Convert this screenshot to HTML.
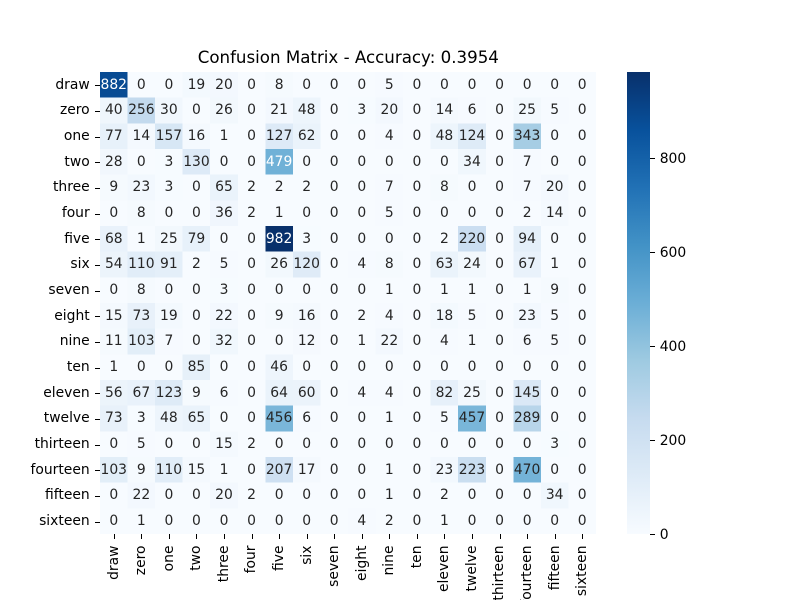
<!DOCTYPE html>
<html lang="en">
<head>
<meta charset="utf-8">
<title>Confusion Matrix</title>
<style>
html,body{margin:0;padding:0;background:#fff;width:800px;height:600px;overflow:hidden}
svg{display:block}
text{font-family:"DejaVu Sans",sans-serif;font-size:13.89px}
</style>
</head>
<body>
<svg id="chart" xmlns="http://www.w3.org/2000/svg" width="800" height="600" viewBox="0 0 800 600">
<defs>
<linearGradient id="cbar-gradient" x1="0" y1="1" x2="0" y2="0"></linearGradient>
</defs>
<text x="348.3" y="63" text-anchor="middle" style="font-size:16.67px" fill="#000">Confusion Matrix - Accuracy: 0.3954</text>
<g id="cells"></g>
<g id="annots"></g>
<g id="yaxis"></g>
<g id="xaxis"></g>
<rect x="627" y="72" width="23" height="462" fill="url(#cbar-gradient)"></rect>
<g id="cbar-axis"></g>
</svg>
<script>
const categories = ["draw","zero","one","two","three","four","five","six","seven","eight","nine","ten","eleven","twelve","thirteen","fourteen","fifteen","sixteen"];
const rowDraw     = [882,0,0,19,20,0,8,0,0,0,5,0,0,0,0,0,0,0];
const rowZero     = [40,256,30,0,26,0,21,48,0,3,20,0,14,6,0,25,5,0];
const rowOne      = [77,14,157,16,1,0,127,62,0,0,4,0,48,124,0,343,0,0];
const rowTwo      = [28,0,3,130,0,0,479,0,0,0,0,0,0,34,0,7,0,0];
const rowThree    = [9,23,3,0,65,2,2,2,0,0,7,0,8,0,0,7,20,0];
const rowFour     = [0,8,0,0,36,2,1,0,0,0,5,0,0,0,0,2,14,0];
const rowFive     = [68,1,25,79,0,0,982,3,0,0,0,0,2,220,0,94,0,0];
const rowSix      = [54,110,91,2,5,0,26,120,0,4,8,0,63,24,0,67,1,0];
const rowSeven    = [0,8,0,0,3,0,0,0,0,0,1,0,1,1,0,1,9,0];
const rowEight    = [15,73,19,0,22,0,9,16,0,2,4,0,18,5,0,23,5,0];
const rowNine     = [11,103,7,0,32,0,0,12,0,1,22,0,4,1,0,6,5,0];
const rowTen      = [1,0,0,85,0,0,46,0,0,0,0,0,0,0,0,0,0,0];
const rowEleven   = [56,67,123,9,6,0,64,60,0,4,4,0,82,25,0,145,0,0];
const rowTwelve   = [73,3,48,65,0,0,456,6,0,0,1,0,5,457,0,289,0,0];
const rowThirteen = [0,5,0,0,15,2,0,0,0,0,0,0,0,0,0,0,3,0];
const rowFourteen = [103,9,110,15,1,0,207,17,0,0,1,0,23,223,0,470,0,0];
const rowFifteen  = [0,22,0,0,20,2,0,0,0,0,1,0,2,0,0,0,34,0];
const rowSixteen  = [0,1,0,0,0,0,0,0,0,4,2,0,1,0,0,0,0,0];
const counts = [rowDraw,rowZero,rowOne,rowTwo,rowThree,rowFour,rowFive,rowSix,rowSeven,rowEight,rowNine,rowTen,rowEleven,rowTwelve,rowThirteen,rowFourteen,rowFifteen,rowSixteen];
const colorbarTicks = [0,200,400,600,800];
const colorbarMax = 982;

const NS = "http://www.w3.org/2000/svg";
const plot = {left:100, right:596, top:72, bottom:534};
const cbar = {left:627, right:650, top:72, bottom:534};
const blues = [[247,251,255],[222,235,247],[198,219,239],[158,202,225],[107,174,214],[66,146,198],[33,113,181],[8,81,156],[8,48,107]];

function xScale(i){ return plot.left + (plot.right-plot.left)*i/categories.length; }
function yScale(i){ return plot.top + (plot.bottom-plot.top)*i/categories.length; }
function cbarScale(v){ return cbar.bottom - (cbar.bottom-cbar.top)*v/colorbarMax; }
function colorRgb(v){
  const t = Math.max(0,Math.min(1,v/colorbarMax))*(blues.length-1);
  const i = Math.min(Math.floor(t),blues.length-2);
  const f = t-i;
  return blues[i].map((c,k)=>c+(blues[i+1][k]-c)*f);
}
function css(rgb){ return "rgb("+rgb.map(c=>Math.round(c)).join(",")+")"; }
function luminance(rgb){
  const l = rgb.map(c=>{c/=255;return c<=0.03928?c/12.92:Math.pow((c+0.055)/1.055,2.4);});
  return 0.2126*l[0]+0.7152*l[1]+0.0722*l[2];
}
function baseline(center){ return Math.floor(center+4.2); }
function make(tag,attrs,parent,txt){
  const el = document.createElementNS(NS,tag);
  for(const k in attrs) el.setAttribute(k,attrs[k]);
  if(txt!==undefined) el.textContent = txt;
  parent.appendChild(el);
  return el;
}

const grad = document.getElementById("cbar-gradient");
blues.forEach((c,i)=>{
  make("stop",{offset:(i/(blues.length-1)),"stop-color":css(c)},grad);
});

const cellsG = document.getElementById("cells");
const annotsG = document.getElementById("annots");
counts.forEach((row,r)=>{
  row.forEach((v,c)=>{
    const rgb = colorRgb(v);
    const rect = make("rect",{x:xScale(c),y:yScale(r),width:xScale(c+1)-xScale(c),height:yScale(r+1)-yScale(r),fill:css(rgb),"shape-rendering":"crispEdges"},cellsG);
    
    
    const t = make("text",{x:(xScale(c)+xScale(c+1))/2,y:baseline((yScale(r)+yScale(r+1))/2),"text-anchor":"middle",fill:luminance(rgb)>0.408?"#262626":"#ffffff"},annotsG,String(v));
    
    
  });
});

const yG = document.getElementById("yaxis");
const xG = document.getElementById("xaxis");
categories.forEach((name,i)=>{
  const yc = (yScale(i)+yScale(i+1))/2;
  const ytp = Math.ceil(yc)+0.5;
  const yt = make("line",{x1:plot.left-5,x2:plot.left,y1:ytp,y2:ytp,stroke:"#000","stroke-width":1,"shape-rendering":"crispEdges"},yG);
  
  
  const yl = make("text",{x:plot.left-10.3,y:baseline(yc),"text-anchor":"end",fill:"#000"},yG,name);
  
  

  const xc = (xScale(i)+xScale(i+1))/2;
  const xtp = Math.round(xc)+0.5;
  const xt = make("line",{x1:xtp,x2:xtp,y1:plot.bottom,y2:plot.bottom+5,stroke:"#000","stroke-width":1,"shape-rendering":"crispEdges"},xG);
  
  
  const lx = Math.round(xc+3.9), ly = plot.bottom+11.5;
  const xl = make("text",{x:lx,y:ly,"text-anchor":"end",fill:"#000",transform:"rotate(-90 "+lx+" "+ly+")"},xG,name);
  
  
});

const cG = document.getElementById("cbar-axis");
colorbarTicks.forEach(v=>{
  const y = cbarScale(v);
  const cty = Math.ceil(y)+0.5;
  const ct = make("line",{x1:cbar.right,x2:cbar.right+5,y1:cty,y2:cty,stroke:"#000","stroke-width":1,"shape-rendering":"crispEdges"},cG);
  
  
  const cl = make("text",{x:cbar.right+9.72,y:Math.round(y+5),fill:"#000"},cG,String(v));
  
  
});
</script>
</body>
</html>
